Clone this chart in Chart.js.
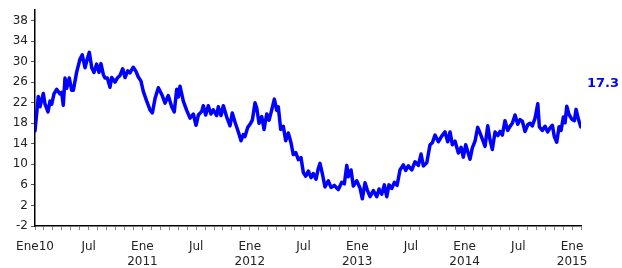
<!DOCTYPE html>
<html>
<head>
<meta charset="utf-8">
<script src="https://cdn.jsdelivr.net/npm/chart.js@4/dist/chart.umd.min.js"></script>
<style>
  html, body { margin: 0; padding: 0; background: #fff; }
  #wrap { width: 622px; height: 268px; }
</style>
</head>
<body>
<div id="wrap"><canvas id="grafico"></canvas></div>
<script>
// Meses desde Ene 2010 (decimal) y valores de la serie
const meses = [0, 0.37, 0.56, 0.93, 1.12, 1.45, 1.68, 1.87, 2.12, 2.42, 2.79, 2.98, 3.16, 3.35, 3.54, 3.83, 4.10, 4.28, 4.66, 5.03,
  5.28, 5.59, 5.84, 6.07, 6.34, 6.59, 6.89, 7.15, 7.37, 7.63, 7.82, 8.08, 8.38, 8.57, 8.94, 9.20, 9.50, 9.80, 10.06, 10.36,
  10.61, 10.98, 11.28, 11.54, 11.84, 12.10, 12.48, 12.85, 13.11, 13.41, 13.78, 14.16, 14.53, 14.89, 15.27, 15.56, 15.83, 16.01, 16.20, 16.57,
  16.95, 17.32, 17.69, 17.99, 18.25, 18.63, 18.80, 19.07, 19.36, 19.66, 19.92, 20.30, 20.48, 20.78, 21.04, 21.42, 21.79, 22.04, 22.35, 22.72,
  23.02, 23.27, 23.46, 23.77, 24.02, 24.28, 24.58, 24.77, 25.03, 25.33, 25.59, 25.89, 26.15, 26.45, 26.74, 27.01, 27.18, 27.45, 27.74, 28.01,
  28.30, 28.60, 28.86, 29.13, 29.42, 29.72, 29.98, 30.25, 30.54, 30.84, 31.09, 31.40, 31.65, 31.84, 32.10, 32.40, 32.77, 33.07, 33.44, 33.71,
  33.89, 34.27, 34.56, 34.83, 35.01, 35.31, 35.56, 35.94, 36.31, 36.57, 36.87, 37.13, 37.43, 37.80, 38.18, 38.44, 38.74, 39.03, 39.30, 39.55,
  39.85, 40.15, 40.45, 40.78, 41.15, 41.42, 41.71, 42.09, 42.46, 42.83, 43.13, 43.39, 43.77, 44.13, 44.39, 44.69, 45.06, 45.44, 45.81, 46.11,
  46.37, 46.63, 46.93, 47.30, 47.60, 47.85, 48.12, 48.41, 48.60, 48.86, 49.16, 49.46, 49.72, 49.98, 50.28, 50.58, 50.84, 51.09, 51.40, 51.70,
  51.96, 52.21, 52.51, 52.82, 53.07, 53.33, 53.63, 53.93, 54.19, 54.45, 54.75, 55.05, 55.31, 55.56, 55.87, 56.17, 56.35, 56.68, 56.98, 57.28,
  57.54, 57.80, 58.02, 58.29, 58.55, 58.77, 59.03, 59.22, 59.41, 59.66, 59.97, 60.26, 60.45, 60.71, 60.97]

const valores = [16.5, 23.2, 21.2, 23.8, 21.7, 20.2, 22.3, 21.7, 23.7, 24.6, 23.7, 24, 21.5, 26.8, 24.8, 26.8, 24.4, 24.4, 28, 30.5,
  31.3, 28.8, 30.5, 31.8, 28.8, 27.9, 29.5, 27.9, 29.6, 27.5, 26.8, 26.8, 25, 26.9, 26, 26.8, 27.3, 28.6, 26.9, 28.2,
  27.8, 28.9, 28.1, 27, 26.2, 24.2, 22.3, 20.6, 20, 22.8, 24.9, 23.6, 21.9, 23.4, 21.2, 20.2, 24.6, 23.1, 25.2, 22.3,
  20.5, 19, 19.8, 17.6, 19.6, 20.3, 21.4, 19.6, 21.4, 19.8, 20.6, 19.5, 21.2, 19.5, 21.4, 19.2, 17.5, 20, 18.2, 16.3,
  14.6, 15.8, 15.4, 17.2, 17.8, 18.6, 22, 21, 18, 19.3, 16.8, 19.8, 18.6, 20.6, 22.7, 20.5, 21.2, 16.8, 17.4, 14.6,
  16.1, 14.2, 11.9, 12.3, 10.9, 11.3, 8.4, 7.7, 8.7, 7.4, 8.2, 7.1, 9.2, 10.2, 8.2, 5.6, 6.8, 5.5, 5.9, 5.4,
  5.1, 6.5, 6.2, 9.8, 7.6, 8.9, 5.8, 6.8, 5.4, 3.3, 6.4, 5, 3.7, 4.9, 3.7, 5.2, 4.2, 6, 3.7, 6,
  5.3, 6.5, 5.9, 8.9, 9.9, 8.8, 9.7, 8.9, 10.5, 9.8, 12, 9.7, 10.3, 13.8, 14.2, 15.7, 14.4, 15.5, 16.3, 14.4,
  16.3, 13.8, 14.5, 12.2, 13.3, 11.4, 13.8, 12.1, 11, 13.2, 14.5, 17.2, 16.1, 14.9, 13.5, 17.5, 14.7, 12.9, 16.3, 15.6,
  16.4, 15.7, 18.5, 16.6, 17.4, 18, 19.6, 17.8, 18.7, 18.4, 16.4, 17.7, 18, 17.5, 19, 21.8, 17.3, 16.6, 17.4, 16.3,
  17.1, 17.6, 15.4, 14.3, 17.3, 16.6, 19.2, 18.1, 21.3, 19.7, 18.8, 18.5, 20.7, 18.8, 17.3]

// Etiquetas del eje x (cada 6 meses)
const etiquetasX = {
  0: 'Ene10', 6: 'Jul', 12: ['Ene', '2011'], 18: 'Jul', 24: ['Ene', '2012'], 30: 'Jul',
  36: ['Ene', '2013'], 42: 'Jul', 48: ['Ene', '2014'], 54: 'Jul', 60: ['Ene', '2015']
}
const ticksY = [-2, 2, 6, 10, 14, 18, 22, 26, 30, 34, 38]

const fuente = { family: 'DejaVu Sans', size: 12, lineHeight: 1.2 }

// Etiqueta del ultimo valor
const ultimoValor = {
  id: 'ultimoValor',
  afterDatasetsDraw(chart) {
    const ctx = chart.ctx
    const y = chart.scales.y
    const v = valores[valores.length - 1]
    ctx.save()
    ctx.font = 'bold 13px "DejaVu Sans"'
    ctx.fillStyle = '#0000FF'
    ctx.textAlign = 'center'
    ctx.textBaseline = 'middle'
    ctx.fillText(v.toFixed(1), 603, y.getPixelForValue(v) - 43)
    ctx.restore()
  }
}

new Chart(document.getElementById('grafico'), {
  type: 'line',
  data: {
    datasets: [{
      data: meses.map((m, i) => ({ x: m, y: valores[i] })),
      borderColor: '#0000FF',
      borderWidth: 3.5,
      borderJoinStyle: 'round',
      borderCapStyle: 'round',
      pointRadius: 0,
      tension: 0,
      fill: false
    }]
  },
  options: {
    responsive: true,
    maintainAspectRatio: false,
    animation: false,
    layout: { padding: { left: 0, right: 41, top: 8, bottom: 0 } },
    plugins: { legend: { display: false }, tooltip: { enabled: false } },
    scales: {
      x: {
        type: 'linear',
        min: 0,
        max: 61,
        afterBuildTicks: s => { s.ticks = []; for (let i = 0; i <= 61; i++) s.ticks.push({ value: i }) },
        afterFit: s => { s.height = 42 },
        border: { color: '#000', width: 1.5 },
        grid: { drawOnChartArea: false, drawTicks: true, tickLength: 4, color: '#888' },
        ticks: {
          autoSkip: false,
          maxRotation: 0,
          padding: 10,
          color: '#222',
          font: fuente,
          callback: v => etiquetasX[v] ?? ''
        }
      },
      y: {
        min: -2,
        max: 40,
        afterBuildTicks: s => { s.ticks = ticksY.map(v => ({ value: v })) },
        afterFit: s => { s.width = 35 },
        border: { color: '#000', width: 1.5 },
        grid: { drawOnChartArea: false, drawTicks: true, tickLength: 4, color: '#555' },
        ticks: { padding: 3, color: '#222', font: fuente }
      }
    }
  },
  plugins: [ultimoValor]
})
</script>
</body>
</html>
